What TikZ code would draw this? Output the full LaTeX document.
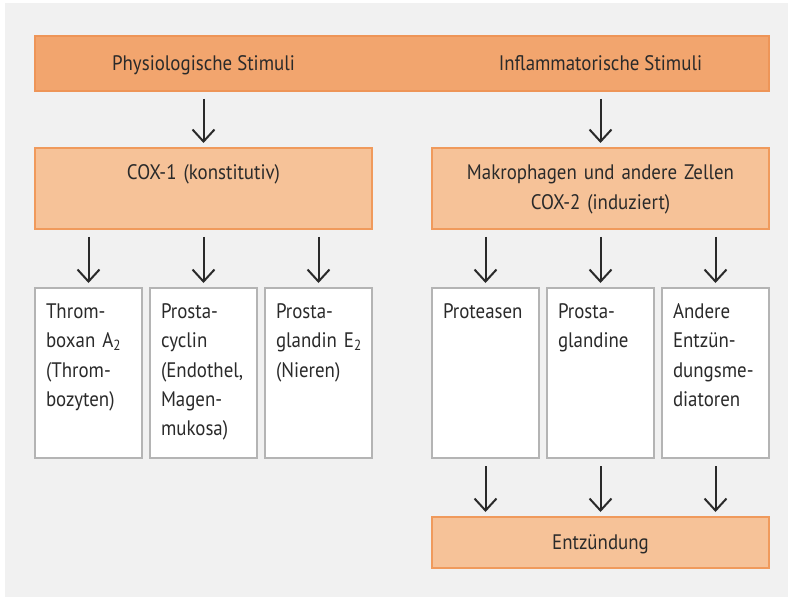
\documentclass[tikz,border=0pt]{standalone}
\usepackage{fontspec}
\setmainfont[FakeStretch=0.9]{PT Sans}
\usetikzlibrary{arrows.meta, positioning}
\definecolor{bggray}{HTML}{F1F1F1}
\definecolor{barfill}{HTML}{F2A56E}
\definecolor{barline}{HTML}{EE9558}
\definecolor{boxfill}{HTML}{F6C298}
\definecolor{boxline}{HTML}{F09A5C}
\definecolor{frameline}{HTML}{B4B4B4}
\definecolor{textdark}{HTML}{2A2A2A}
\tikzset{
    label font/.style={font=\fontsize{21}{29.5}\selectfont, text=textdark},
    bar style/.style={draw=barline, fill=barfill, line width=2pt, outer sep=0pt, minimum width=734pt, minimum height=55pt, inner sep=0pt},
    bar text/.style={label font, inner sep=0pt, text height=15pt, text depth=0pt},
    enzyme style/.style={draw=boxline, fill=boxfill, line width=2pt, outer sep=0pt, label font, inner sep=0pt, text width=337pt, align=center, text height=32pt, text depth=49pt},
    product style/.style={draw=frameline, fill=white, line width=1.8pt, outer sep=0pt, label font, inner xsep=11pt, inner ysep=0pt, text width=85pt, align=left, text height=30pt, text depth=140pt},
    result style/.style={draw=boxline, fill=boxfill, line width=2pt, outer sep=0pt, label font, minimum width=337pt, minimum height=51pt, inner sep=0pt, text height=13pt, text depth=0pt},
    arrow style/.style={-{Straight Barb[length=12pt, width=22pt]}, line width=2pt, draw=textdark, shorten <=8pt, shorten >=5pt},
}

\begin{document}
\begin{tikzpicture}[x=1pt, y=1pt]
    \useasboundingbox (0,0) rectangle (788,-599);
    \fill[bggray] (5,-3) rectangle (788,-597);

    % stimuli
    \node (stimuli) [bar style, anchor=north west] at (35,-36) {};
    \node (cox1) [enzyme style, anchor=north west] at (35,-148) {COX-1 (konstitutiv)};
    \node (cox2) [enzyme style, anchor=north west] at (432,-148) {Makrophagen und andere Zellen\\COX-2 (induziert)};
    \node (physio) [bar text] at (stimuli -| cox1) {Physiologische Stimuli};
    \node (inflam) [bar text] at (stimuli -| cox2) {Inflammatorische Stimuli};

    % products
    \node (thromb) [product style, anchor=north west] at (35,-288) {Throm-\\boxan A\textsubscript{2}\\(Throm-\\bozyten)};
    \node (cyclin) [product style, right=8pt of thromb] {Prosta-\\cyclin\\(Endothel,\\Magen-\\mukosa)};
    \node (glandE) [product style, right=8pt of cyclin] {Prosta-\\glandin~E\textsubscript{2}\\(Nieren)};
    \node (protease) [product style, anchor=north west] at (432,-288) {Proteasen};
    \node (glandin) [product style, right=8pt of protease] {Prosta-\\glandine};
    \node (mediator) [product style, right=8pt of glandin] {Andere\\Entzün-\\dungsme-\\diatoren};

    \node (entz) [result style, anchor=north west] at (432,-517) {Entzündung};

    \draw [arrow style] (stimuli.south -| cox1) -- (cox1.north);
    \draw [arrow style] (stimuli.south -| cox2) -- (cox2.north);
    \foreach \p in {thromb, cyclin, glandE}
        \draw [arrow style] (cox1.south -| \p) -- (\p.north);
    \foreach \p in {protease, glandin, mediator} {
        \draw [arrow style] (cox2.south -| \p) -- (\p.north);
        \draw [arrow style] (\p.south) -- (entz.north -| \p);
    }
\end{tikzpicture}
\end{document}
